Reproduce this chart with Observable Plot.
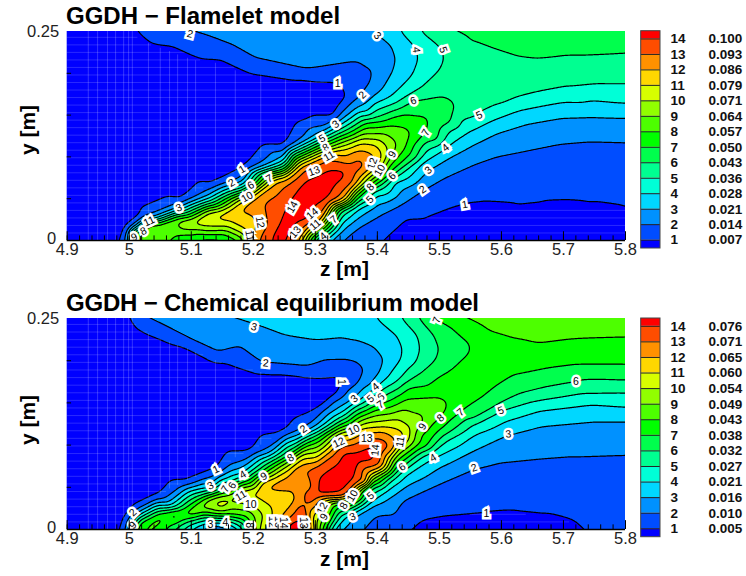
<!DOCTYPE html>
<html><head><meta charset="utf-8">
<script src="https://cdn.jsdelivr.net/npm/d3@7"></script>
<script src="https://cdn.jsdelivr.net/npm/@observablehq/plot@0.6"></script>
<style>
html,body{margin:0;padding:0;background:#fff}
#chart{position:relative;width:746px;height:576px;overflow:hidden;font-family:"Liberation Sans",Arial,sans-serif;color:#000}
#chart svg{position:absolute;background:transparent;overflow:visible}
.t{position:absolute;font-weight:700;white-space:nowrap;line-height:1}
</style></head><body><div id="chart"></div>
<script>
// Levels and colours shared by both panels
const levels=[1,2,3,4,5,6,7,8,9,10,11,12,13,14];
const bandColors=["#0000ff","#004dff","#0091ff","#00d7ff","#00ffd7","#00ff91","#00ff4d","#00ff00","#4dff00","#91ff00","#d7ff00","#ffd700","#ff9100","#ff4d00","#ff0000"];
const flameLegend=["0.007","0.014","0.021","0.028","0.036","0.043","0.050","0.057","0.064","0.071","0.079","0.086","0.093","0.100"];
const equilLegend=["0.005","0.010","0.016","0.021","0.027","0.032","0.038","0.043","0.049","0.054","0.060","0.065","0.071","0.076"];
const zTicks=[4.9,5,5.1,5.2,5.3,5.4,5.5,5.6,5.7,5.8];
const yMinor=[0.05,0.1,0.15,0.2];
const zMinor=d3.range(0,46).map(i=>+(4.9+i*0.02).toFixed(2));

// Flamelet model: points read along each iso-level, [z, y]
const fL1=[[4.990,0],[4.992,.010],[5.002,.019],[5.018,.028],[5.080,.048],[5.131,.067],[5.182,.086],[5.249,.113],[5.330,.149],[5.349,.171],[5.341,.184],[5.327,.189],[5.266,.191],[5.196,.199],[5.115,.217],[5.034,.235],[5.014,.244],[5.008,.25],
 [5.399,0],[5.422,.008],[5.475,.026],[5.518,.038],[5.541,.043],[5.561,.046],[5.626,.043],[5.663,.046],[5.706,.047],[5.744,.045],[5.8,.039]];
const fL2=[[5.091,.25],[5.098,.247],[5.163,.233],[5.201,.217],[5.282,.204],[5.370,.214],[5.394,.203],[5.389,.187],[5.376,.174],[5.341,.151],[5.311,.135],[5.249,.105],[5.182,.076],[5.128,.060],[5.080,.044],[5.034,.029],[5.008,.019],[4.998,.012],[4.994,0],
 [5.341,0],[5.368,.016],[5.411,.034],[5.443,.046],[5.473,.061],[5.508,.076],[5.556,.092],[5.594,.102],[5.642,.109],[5.696,.117],[5.744,.120],[5.8,.119]];
const fL3=[[5.397,.25],[5.422,.235],[5.430,.217],[5.424,.201],[5.395,.173],[5.368,.159],[5.341,.144],[5.311,.130],[5.249,.100],[5.182,.070],[5.128,.054],[5.080,.039],[5.034,.027],[5.008,.017],[4.997,0],
 [5.324,0],[5.341,.010],[5.368,.026],[5.395,.040],[5.438,.060],[5.482,.084],[5.518,.100],[5.556,.115],[5.594,.129],[5.642,.140],[5.696,.147],[5.744,.148],[5.8,.147]];
const fL4=[[5.438,.25],[5.462,.231],[5.466,.217],[5.456,.197],[5.427,.175],[5.384,.153],[5.341,.139],[5.311,.126],[5.249,.095],[5.182,.066],[5.128,.050],[5.080,.037],[5.034,.025],[5.008,.015],[5.001,0],
 [5.311,0],[5.341,.020],[5.368,.038],[5.395,.054],[5.427,.070],[5.470,.092],[5.510,.111],[5.545,.129],[5.583,.143],[5.626,.155],[5.674,.162],[5.728,.165],[5.8,.164]];
const fL5=[[5.470,.25],[5.502,.231],[5.508,.219],[5.499,.203],[5.467,.181],[5.432,.165],[5.389,.150],[5.341,.133],[5.311,.122],[5.249,.092],[5.182,.063],[5.128,.047],[5.080,.034],[5.034,.024],[5.008,.013],[5.005,0],
 [5.305,0],[5.341,.028],[5.388,.049],[5.411,.064],[5.440,.082],[5.481,.109],[5.518,.133],[5.564,.150],[5.594,.161],[5.626,.171],[5.663,.178],[5.706,.184],[5.750,.187],[5.8,.187]];
const fL6=[[5.516,.25],[5.545,.239],[5.588,.229],[5.626,.220],[5.663,.217],[5.706,.221],[5.8,.224],
 [5.300,0],[5.341,.036],[5.388,.060],[5.424,.077],[5.465,.100],[5.497,.119],[5.518,.139],[5.526,.160],[5.518,.167],[5.499,.172],[5.458,.167],[5.395,.146],[5.341,.129],[5.311,.119],[5.249,.088],[5.182,.060],[5.128,.044],[5.080,.032],[5.034,.022],[5.008,.012],[5.009,0]];
const fL7=[[5.295,0],[5.330,.025],[5.363,.048],[5.400,.068],[5.432,.088],[5.456,.111],[5.478,.129],[5.483,.141],[5.475,.149],[5.443,.151],[5.395,.142],[5.341,.125],[5.311,.116],[5.249,.084],[5.182,.057],[5.128,.041],[5.080,.029],[5.034,.021],[5.008,.010],[5.014,0],
 [5.102,0],[5.110,.003],[5.150,.003],[5.155,0]];
const fL8=[[5.291,0],[5.325,.024],[5.360,.048],[5.389,.066],[5.422,.092],[5.446,.111],[5.454,.127],[5.446,.136],[5.422,.138],[5.384,.136],[5.341,.121],[5.311,.112],[5.249,.081],[5.182,.055],[5.128,.039],[5.080,.027],[5.034,.019],[5.008,.008],[5.018,0],
 [5.056,0],[5.072,.008],[5.115,.008],[5.163,.005],[5.178,0]];
const fL9=[[5.287,0],[5.320,.024],[5.356,.048],[5.387,.070],[5.413,.089],[5.424,.103],[5.430,.111],[5.427,.121],[5.411,.128],[5.384,.127],[5.341,.117],[5.311,.109],[5.249,.080],[5.182,.053],[5.128,.037],[5.080,.025],[5.034,.017],[5.026,.008],[5.023,0],
 [5.040,0],[5.056,.012],[5.115,.012],[5.163,.009],[5.185,0]];
const fL10=[[5.283,0],[5.317,.024],[5.353,.048],[5.384,.074],[5.403,.084],[5.415,.100],[5.416,.111],[5.403,.121],[5.373,.121],[5.341,.112],[5.311,.106],[5.249,.078],[5.182,.051],[5.128,.034],[5.085,.020],[5.126,.016],[5.169,.013],[5.190,0]];
const fL11=[[5.278,0],[5.313,.024],[5.349,.048],[5.381,.076],[5.403,.092],[5.408,.105],[5.397,.115],[5.373,.117],[5.341,.109],[5.311,.104],[5.249,.077],[5.182,.048],[5.128,.026],[5.163,.022],[5.188,.012],[5.195,0]];
const fL12=[[5.274,0],[5.308,.024],[5.344,.048],[5.373,.076],[5.392,.088],[5.399,.096],[5.389,.105],[5.370,.108],[5.334,.104],[5.276,.088],[5.239,.072],[5.196,.048],[5.172,.036],[5.196,.032],[5.206,.022],[5.202,0]];
const fL13=[[5.265,0],[5.302,.024],[5.335,.048],[5.360,.068],[5.376,.084],[5.380,.092],[5.370,.099],[5.319,.096],[5.282,.084],[5.249,.064],[5.217,.044],[5.223,.016],[5.209,0]];
const fL14=[[5.258,0],[5.287,.024],[5.319,.048],[5.346,.074],[5.349,.084],[5.319,.084],[5.282,.072],[5.266,.056],[5.249,.032],[5.239,.016],[5.225,0]];
// Flamelet model: other values read between iso-levels, [z, y, level]
const fOther=[[4.9,0,0],[4.9,.25,0],[5.8,0,0],[5.8,.25,6.5],[4.95,.1,0],[5.0,.15,0],[5.1,.13,0],[5.2,.15,0],[5.28,.165,0],[5.32,.175,0],[5.0,.22,0],[5.5,0,0],[5.6,0,0],[5.7,0,0],
 [4.97,.03,0],[5.0,.05,0],[5.05,.065,0],[5.1,.085,0],[5.15,.105,0],[5.2,.125,0],[5.25,.15,0],[5.3,.165,0],[5.33,.172,0],[5.05,.215,0],[5.13,.2,0],[5.2,.185,0],[5.27,.18,0],
 [5.45,.005,0],[5.52,.02,0],[5.6,.03,0],[5.7,.03,0],[5.78,.03,0],
 [5.53,.2,5.5],[5.62,.19,5.5],[5.72,.2,5.5],[5.13,0,6.5],[5.36,.19,1.5],
 [5.25,.01,14.5],[5.27,.03,14.5],[5.30,.055,14.5],[5.33,.078,14.5],[5.36,.086,13.5],[5.39,.094,12.5],[5.403,.1,11.5],[5.412,.108,10.5],[5.423,.115,9.5],[5.44,.122,8.5],[5.465,.135,7.5],[5.5,.152,6.5],
 [5.24,.045,13.5],[5.195,.038,12.5],[5.15,.031,11.5],[5.105,.022,10.5],[5.06,.018,9.5]];
const fLabels=[[5.098,.247,"2",15],[5.400,.245,"3",45],[5.336,.188,"1",0],[5.376,.174,"2",-45],[5.333,.139,"3",-35],[5.311,.122,"5",-30],[5.317,.111,"8",-30],[5.322,.101,"11",-30],[5.298,.083,"13",-20],[5.182,.085,"1",-30],[5.165,.069,"2",-30],[5.196,.066,"6",-30],[5.226,.074,"7",-30],[5.190,.052,"10",-30],[5.080,.039,"3",-20],[5.032,.023,"11",-25],[5.023,.011,"8",-25],[5.008,.004,"9",-25],[5.263,.040,"14",-60],[5.211,.022,"12",80],[5.194,.006,"11",80],[5.268,.010,"13",-50],[5.295,.032,"14",-40],[5.300,.019,"11",-40],[5.330,.025,"7",-40],[5.313,.005,"4",-40],
 [5.463,.228,"4",85],[5.506,.228,"5",70],[5.458,.167,"6",-20],[5.564,.150,"5",-25],[5.478,.129,"7",-60],[5.510,.111,"4",-40],[5.482,.084,"3",-40],[5.473,.061,"2",-35],[5.541,.043,"1",-10],[5.392,.092,"12",-70],[5.404,.084,"10",-60],[5.424,.103,"9",-60],[5.424,.077,"6",-45],[5.389,.064,"8",-45],[5.388,.049,"5",-45]];
// Faint mesh seen in the blue areas: [y, z from, z to] and [z, y from, y to]
const fMeshRows=[[.243,4.9,5.014],[.234,4.9,5.036],[.225,4.9,5.09],[.216,4.9,5.115],[.207,4.9,5.17],[.198,4.9,5.2],[.189,4.9,5.32],[.18,4.9,5.345],[.171,4.9,5.345],[.162,4.9,5.34],[.153,4.9,5.33],[.144,4.9,5.32],[.135,4.9,5.30],[.126,4.9,5.28],[.117,4.9,5.258],[.108,4.9,5.235],[.099,4.9,5.21],[.09,4.9,5.19],[.081,4.9,5.17],[.072,4.9,5.145],[.063,4.9,5.12],[.054,4.9,5.095],[.045,4.9,5.07],[.036,4.9,5.045],[.027,4.9,5.015],[.018,4.9,5.0],[.009,4.9,4.99],
 [.009,5.425,5.8],[.018,5.45,5.8],[.027,5.48,5.8],[.036,5.515,5.8]];
const fMeshCols=[[4.934,0,.25],[4.949,0,.25],[4.965,0,.25],[4.978,0,.25],[4.991,.012,.25],[4.999,.02,.25],[5.005,.022,.25],[5.031,.03,.236],[5.05,.036,.23],[5.065,.042,.226],[5.078,.047,.222],[5.094,.053,.218],[5.107,.058,.215],[5.139,.07,.212],[5.171,.082,.203],[5.212,.098,.198],[5.252,.114,.192],[5.292,.13,.19]];

// Chemical equilibrium model: points read along each iso-level, [z, y]
const eL1=[[4.990,0],[4.992,.011],[5.008,.027],[5.045,.040],[5.088,.056],[5.140,.071],[5.196,.093],[5.249,.116],[5.303,.143],[5.335,.165],[5.342,.175],[5.333,.180],[5.276,.181],[5.223,.185],[5.153,.197],[5.088,.216],[5.034,.230],[5.010,.240],[5.005,.25],
 [5.443,0],[5.470,.009],[5.518,.015],[5.577,.019],[5.620,.021],[5.674,.017],[5.717,.009],[5.747,0]];
const eL2=[[5.016,.25],[5.034,.244],[5.088,.228],[5.142,.210],[5.217,.197],[5.282,.193],[5.368,.199],[5.381,.189],[5.373,.175],[5.346,.157],[5.281,.119],[5.223,.094],[5.163,.076],[5.088,.052],[5.045,.036],[5.008,.020],[4.998,.011],[4.994,0],
 [5.366,0],[5.395,.017],[5.443,.036],[5.502,.056],[5.556,.073],[5.594,.080],[5.663,.085],[5.717,.088],[5.8,.090]];
const eL3=[[5.158,.25],[5.201,.240],[5.249,.230],[5.303,.224],[5.341,.227],[5.368,.224],[5.395,.216],[5.411,.201],[5.405,.187],[5.389,.171],[5.363,.155],[5.303,.123],[5.223,.090],[5.131,.052],[5.061,.030],[5.010,.017],[4.998,0],
 [5.341,0],[5.360,.015],[5.389,.027],[5.411,.034],[5.448,.052],[5.502,.074],[5.556,.094],[5.611,.113],[5.663,.123],[5.754,.129],[5.8,.129],
 [5.115,0],[5.131,.006],[5.158,.004],[5.169,0]];
const eL4=[[5.400,.25],[5.432,.230],[5.441,.214],[5.438,.201],[5.416,.179],[5.397,.167],[5.341,.137],[5.303,.119],[5.223,.086],[5.182,.066],[5.115,.048],[5.061,.028],[5.012,.015],[5.001,0],
 [5.330,0],[5.341,.009],[5.389,.032],[5.411,.044],[5.448,.066],[5.490,.085],[5.556,.112],[5.610,.129],[5.663,.141],[5.744,.148],[5.8,.145],
 [5.099,0],[5.126,.008],[5.155,.008],[5.177,0]];
const eL5=[[5.440,.25],[5.465,.230],[5.469,.214],[5.462,.197],[5.432,.175],[5.389,.155],[5.341,.133],[5.303,.115],[5.223,.082],[5.188,.064],[5.115,.044],[5.061,.025],[5.014,.013],[5.005,0],
 [5.325,0],[5.341,.017],[5.389,.040],[5.432,.064],[5.475,.088],[5.513,.106],[5.556,.125],[5.599,.141],[5.663,.153],[5.744,.161],[5.8,.162],
 [5.085,0],[5.110,.009],[5.158,.011],[5.184,0]];
const eL6=[[5.467,.25],[5.491,.230],[5.499,.214],[5.494,.201],[5.465,.183],[5.406,.156],[5.341,.129],[5.303,.112],[5.223,.078],[5.166,.052],[5.115,.040],[5.061,.023],[5.016,.011],[5.009,0],
 [5.320,0],[5.341,.025],[5.389,.048],[5.440,.074],[5.486,.096],[5.518,.116],[5.556,.131],[5.594,.147],[5.631,.161],[5.674,.169],[5.720,.175],[5.8,.177],
 [5.072,0],[5.099,.011],[5.158,.013],[5.190,0]];
const eL7=[[5.494,.25],[5.524,.238],[5.548,.222],[5.548,.210],[5.529,.197],[5.508,.185],[5.448,.167],[5.405,.149],[5.341,.125],[5.303,.108],[5.223,.074],[5.155,.048],[5.115,.037],[5.061,.021],[5.018,.009],[5.013,0],
 [5.316,0],[5.341,.030],[5.389,.054],[5.435,.078],[5.481,.098],[5.497,.116],[5.534,.139],[5.567,.155],[5.594,.171],[5.620,.183],[5.674,.191],[5.717,.195],[5.8,.195],
 [5.059,0],[5.088,.013],[5.158,.015],[5.195,0]];
const eL8=[[5.529,.25],[5.572,.240],[5.626,.228],[5.663,.222],[5.706,.226],[5.8,.228],
 [5.312,0],[5.346,.028],[5.389,.058],[5.432,.082],[5.470,.112],[5.502,.132],[5.512,.141],[5.513,.151],[5.497,.157],[5.448,.155],[5.395,.141],[5.341,.121],[5.260,.085],[5.217,.066],[5.163,.044],[5.115,.033],[5.061,.017],[5.024,.007],[5.018,0],
 [5.040,0],[5.056,.011],[5.088,.015],[5.158,.017],[5.190,.015],[5.200,0]];
const eL9=[[5.626,.25],[5.653,.248],[5.696,.25],
 [5.307,0],[5.343,.032],[5.387,.060],[5.427,.084],[5.459,.104],[5.473,.122],[5.475,.131],[5.470,.137],[5.443,.143],[5.395,.135],[5.341,.117],[5.217,.063],[5.163,.041],[5.115,.030],[5.075,.017],[5.099,.019],[5.142,.021],[5.196,.021],[5.204,0]];
const eL10=[[5.303,0],[5.360,.040],[5.389,.062],[5.422,.084],[5.451,.104],[5.454,.119],[5.432,.131],[5.395,.127],[5.362,.118],[5.260,.078],[5.217,.060],[5.180,.046],[5.131,.033],[5.174,.032],[5.196,.030],[5.216,.017],[5.209,0]];
const eL11=[[5.299,0],[5.356,.040],[5.387,.064],[5.416,.084],[5.437,.104],[5.443,.112],[5.416,.121],[5.373,.119],[5.341,.112],[5.276,.084],[5.217,.057],[5.180,.040],[5.147,.030],[5.190,.036],[5.228,.028],[5.220,0]];
const eL12=[[5.293,0],[5.352,.040],[5.384,.066],[5.411,.086],[5.430,.104],[5.411,.116],[5.373,.114],[5.338,.103],[5.276,.074],[5.244,.060],[5.214,.048],[5.266,.046],[5.271,.036],[5.249,.017],[5.232,0]];
const eL13=[[5.288,0],[5.349,.040],[5.384,.056],[5.405,.076],[5.422,.096],[5.411,.107],[5.384,.108],[5.357,.100],[5.330,.090],[5.276,.072],[5.292,.064],[5.298,.048],[5.282,.028],[5.260,.013],[5.241,0]];
const eL14=[[5.279,0],[5.338,.040],[5.362,.056],[5.389,.080],[5.400,.092],[5.392,.100],[5.346,.092],[5.325,.072],[5.295,.040],[5.276,.017],[5.251,0]];
// Chemical equilibrium model: other values read between iso-levels, [z, y, level]
const eOther=[[4.9,0,0],[4.9,.25,0],[5.8,0,1.5],[5.8,.25,8.5],[4.95,.1,0],[5.0,.15,0],[5.1,.13,0],[5.2,.15,0],[5.28,.16,0],[5.32,.165,0],[5.0,.22,0],[5.55,0,0],[5.65,0,0],[5.6,.01,0],
 [4.97,.03,0],[5.0,.055,0],[5.05,.07,0],[5.1,.09,0],[5.15,.11,0],[5.2,.13,0],[5.25,.145,0],[5.3,.16,0],[5.33,.17,0],[5.05,.21,0],[5.13,.185,0],[5.2,.17,0],[5.27,.17,0],[5.5,.003,0],[5.68,.005,0],
 [5.55,.17,7.5],[5.6,.2,7.5],[5.7,.21,7.5],[5.54,.235,7.5],[5.14,0,2],[5.35,.19,1.5],[5.78,.04,1.5],
 [5.26,.005,14.5],[5.28,.02,14.5],[5.31,.05,14.5],[5.34,.07,14.5],[5.365,.085,14.5],[5.385,.09,14.5],[5.41,.1,13.5],[5.425,.102,12.5],[5.437,.112,11.5],[5.447,.118,10.5],[5.46,.125,9.5],[5.49,.142,8.5],
 [5.30,.07,13.5],[5.25,.055,12.5],[5.21,.044,11.5],[5.165,.036,10.5],[5.12,.026,9.5],[5.05,.014,8.5]];
const eLabels=[[5.201,.240,"3",15],[5.220,.197,"2",5],[5.342,.175,"1",90],[5.363,.155,"3",-40],[5.397,.169,"4",-40],[5.389,.155,"5",-40],[5.406,.157,"6",-40],[5.405,.148,"7",-35],[5.281,.119,"2",-35],[5.362,.118,"10",-25],[5.383,.108,"13",0],[5.338,.103,"12",-25],[5.397,.094,"14",-85],[5.260,.085,"8",-30],[5.140,.071,"1",-25],[5.183,.065,"4",-30],[5.131,.052,"3",-25],[5.155,.048,"7",-60],[5.166,.052,"6",-60],[5.217,.063,"9",-30],[5.180,.040,"11",-30],[5.196,.030,"10",0],[5.006,.020,"2",-45],[5.006,.005,"9",-45],[5.131,.006,"3",0],[5.155,.008,"4",0],[5.193,.005,"8",90],[5.231,.009,"12",90],[5.240,.009,"13",90],[5.248,.008,"14",90],[5.280,.008,"13",90],[5.311,.025,"12",-60],[5.314,.015,"9",-60],[5.346,.028,"8",-60],[5.360,.040,"10",-60],[5.389,.040,"5",-40],[5.360,.015,"3",-20],
 [5.496,.248,"7",-70],[5.720,.175,"6",0],[5.534,.139,"7",-40],[5.599,.141,"5",-20],[5.611,.113,"3",-5],[5.556,.073,"2",-20],[5.576,.019,"1",0],[5.490,.085,"4",-30],[5.440,.074,"6",-35],[5.473,.122,"9",-60],[5.502,.132,"8",-40],[5.437,.104,"11",-80]];
const eMeshRows=[[.243,4.9,5.012],[.234,4.9,5.03],[.225,4.9,5.05],[.216,4.9,5.088],[.207,4.9,5.12],[.198,4.9,5.15],[.189,4.9,5.2],[.18,4.9,5.33],[.171,4.9,5.338],[.162,4.9,5.33],[.153,4.9,5.318],[.144,4.9,5.303],[.135,4.9,5.28],[.126,4.9,5.265],[.117,4.9,5.25],[.108,4.9,5.23],[.099,4.9,5.21],[.09,4.9,5.185],[.081,4.9,5.165],[.072,4.9,5.14],[.063,4.9,5.11],[.054,4.9,5.085],[.045,4.9,5.06],[.036,4.9,5.035],[.027,4.9,5.008],[.018,4.9,5.0],[.009,4.9,4.99],
 [.009,5.47,5.71],[.018,5.55,5.64]];
const eMeshCols=[[4.934,0,.25],[4.949,0,.25],[4.965,0,.25],[4.978,0,.25],[4.991,.012,.25],[4.999,.02,.25],[5.005,.022,.25],[5.031,.038,.232],[5.05,.042,.225],[5.065,.048,.222],[5.078,.052,.218],[5.094,.058,.214],[5.107,.062,.21],[5.139,.07,.2],[5.171,.085,.193],[5.212,.1,.186],[5.252,.118,.181],[5.292,.138,.181]];

const flameLines=[fL1,fL2,fL3,fL4,fL5,fL6,fL7,fL8,fL9,fL10,fL11,fL12,fL13,fL14];
const equilLines=[eL1,eL2,eL3,eL4,eL5,eL6,eL7,eL8,eL9,eL10,eL11,eL12,eL13,eL14];

// Table of samples; values on the frame edge are carried just past it so the fill reaches the edge.
function table(lines,other){
  const rows=[];
  const add=(z,y,v)=>{
    const Z=[z];if(z===4.9)Z.push(4.87);if(z===5.8)Z.push(5.83);
    const Y=[y];if(y===0)Y.push(-.02);if(y===.25)Y.push(.27);
    for(const a of Z)for(const b of Y)rows.push({z:a,y:b,v});
  };
  lines.forEach((pts,i)=>pts.forEach(([z,y])=>add(z,y,levels[i])));
  other.forEach(([z,y,v])=>add(z,y,v));
  return rows;
}
const thresholds=[-1,...levels.map(l=>l-0.01)];

function panel({lines,other,labels,meshRows,meshCols,top,height,mt,mb}){
  const W=640;
  const p=Plot.plot({
    width:W,height,marginTop:mt,marginBottom:mb,marginLeft:66.7,marginRight:W-625,
    style:{fontFamily:"'Liberation Sans',Arial,sans-serif",background:"transparent",overflow:"visible"},
    x:{domain:[4.9,5.8],label:null},y:{domain:[0,.25],label:null},
    color:{type:"threshold",domain:levels.map(l=>l-.5),range:bandColors},
    marks:[
      Plot.contour(table(lines,other),{x:"z",y:"y",value:"v",fill:"value",stroke:"#000",strokeWidth:1.2,
        interpolate:"barycentric",thresholds,pixelSize:1,blur:3,x1:4.885,x2:5.815,y1:-.008,y2:.258,clip:true}),
      Plot.ruleY(meshRows,{y:d=>d[0],x1:d=>d[1],x2:d=>d[2],stroke:"#fff",strokeOpacity:.16,strokeWidth:1}),
      Plot.ruleX(meshCols,{x:d=>d[0],y1:d=>d[1],y2:d=>d[2],stroke:"#fff",strokeOpacity:.2,strokeWidth:1}),
      Plot.text(labels,{x:d=>d[0],y:d=>d[1],text:d=>d[2],rotate:d=>d[3],fontSize:10.5,fill:"#000",stroke:"#fff",strokeWidth:5,strokeLinejoin:"miter",paintOrder:"stroke"}),
      Plot.ruleY([0],{stroke:"#000",strokeWidth:1.4}),
      Plot.ruleX(zMinor,{y1:0,y2:.0055,stroke:"#000",strokeWidth:1}),
      Plot.ruleX(zTicks,{y1:0,y2:.0105,stroke:"#000",strokeWidth:1}),
      Plot.ruleY(yMinor,{x1:4.9,x2:4.907,stroke:"#000",strokeWidth:1}),
      Plot.axisX(zTicks,{anchor:"bottom",tickSize:0,tickPadding:3,fontSize:16.5,tickFormat:d=>String(d),fill:"#222"}),
      Plot.axisY([0.25],{anchor:"left",tickSize:0,tickPadding:8,fontSize:16.5,tickFormat:d=>String(d),fill:"#222"}),
      Plot.axisY([0],{anchor:"left",tickSize:0,tickPadding:11,dy:-2,fontSize:16.5,tickFormat:d=>String(d),fill:"#222"})
    ]});
  p.style.left="0px";p.style.top=top+"px";
  return p;
}
function colorbar({legend,top,height,mt,mb}){
  const bands=[{a:.46,b:1,c:bandColors[0]},...levels.map((l,i)=>({a:l,b:l===14?14.5:l+1,c:bandColors[i+1]}))];
  const rows=levels.map((l,i)=>({l,v:legend[i]}));
  const p=Plot.plot({
    width:106,height,marginTop:mt,marginBottom:mb,marginLeft:.7,marginRight:86,
    style:{fontFamily:"'Liberation Sans',Arial,sans-serif",background:"transparent",overflow:"visible"},
    x:{domain:[0,1],axis:null},y:{domain:[.46,14.5],axis:null},
    marks:[
      Plot.rect(bands,{x1:0,x2:1,y1:"a",y2:"b",fill:"c"}),
      Plot.ruleY(levels,{x1:0,x2:1,stroke:"#222",strokeWidth:1}),
      Plot.rect([0],{x1:0,x2:1,y1:.46,y2:14.5,stroke:"#444",strokeWidth:1,fill:"none"}),
      Plot.text(rows,{x:1,y:"l",text:d=>String(d.l),textAnchor:"start",dx:10,fontWeight:"bold",fontSize:13.5,fill:"#111"}),
      Plot.text(rows,{x:1,y:"l",text:"v",textAnchor:"start",dx:48,fontWeight:"bold",fontSize:13.5,fill:"#111"})
    ]});
  p.style.left="640px";p.style.top=top+"px";
  return p;
}
const root=document.getElementById("chart");
function label(text,x,y,size,rot,spacing){
  const d=document.createElement("div");d.className="t";d.textContent=text;
  d.style.left=x+"px";d.style.top=y+"px";d.style.fontSize=size+"px";
  if(spacing)d.style.letterSpacing=spacing+"px";
  if(rot){d.style.transform="translate(-50%,-50%) rotate(-90deg)";}
  root.appendChild(d);
}
root.appendChild(panel({lines:flameLines,other:fOther,labels:fLabels,meshRows:fMeshRows,meshCols:fMeshCols,top:0,height:270,mt:31,mb:30}));
root.appendChild(colorbar({legend:flameLegend,top:0,height:270,mt:30.7,mb:22}));
root.appendChild(panel({lines:equilLines,other:eOther,labels:eLabels,meshRows:eMeshRows,meshCols:eMeshCols,top:288,height:270,mt:30,mb:29}));
root.appendChild(colorbar({legend:equilLegend,top:288,height:270,mt:30,mb:21.3}));
label("GGDH − Flamelet model",66,4,24);
label("GGDH − Chemical equilibrium model",66,291,24,false,-0.2);
label("z [m]",320,258,21);
label("z [m]",320,548,21);
label("y [m]",27,130,21,true);
label("y [m]",27,420,21,true);
</script></body></html>
